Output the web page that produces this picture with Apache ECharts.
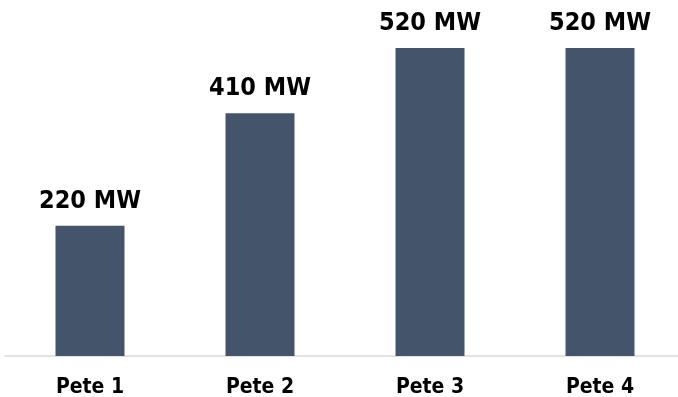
<!DOCTYPE html>
<html>
<head>
<meta charset="utf-8">
<script src="https://cdn.jsdelivr.net/npm/echarts@6/dist/echarts.min.js"></script>
<style>
  html, body { margin: 0; padding: 0; background: #ffffff; }
  #chart { width: 678px; height: 397px; }
</style>
</head>
<body>
<div id="chart"></div>
<script>
// Generating units and their capacity in megawatts
const units = ['Pete 1', 'Pete 2', 'Pete 3', 'Pete 4'];
const capacityMW = [220, 410, 520, 520];
const unitSuffix = ' MW';

const FONT = "'DejaVu Sans Condensed', 'DejaVu Sans', sans-serif";

const chart = echarts.init(document.getElementById('chart'), null, { renderer: 'canvas' });
chart.setOption({
  animation: false,
  backgroundColor: '#ffffff',
  grid: {
    left: 5, width: 680, top: 48, bottom: 41,
    containLabel: false,
    outerBoundsMode: 'none'
  },
  xAxis: {
    type: 'category',
    data: units,
    axisLine: { show: true, lineStyle: { color: '#d9d9d9', width: 1.5 } },
    axisTick: { show: false },
    axisLabel: {
      color: '#000000',
      fontFamily: FONT,
      fontWeight: 'bold',
      fontSize: 21,
      margin: 21
    }
  },
  yAxis: {
    type: 'value',
    min: 0,
    max: 520,
    show: false,
    splitLine: { show: false }
  },
  series: [{
    type: 'bar',
    data: capacityMW,
    barWidth: 69,
    itemStyle: { color: '#44546a' },
    label: {
      show: true,
      position: 'top',
      distance: 12,
      color: '#000000',
      fontFamily: FONT,
      fontWeight: 'bold',
      fontSize: 25,
      formatter: p => p.value + unitSuffix
    }
  }]
});
</script>
</body>
</html>
